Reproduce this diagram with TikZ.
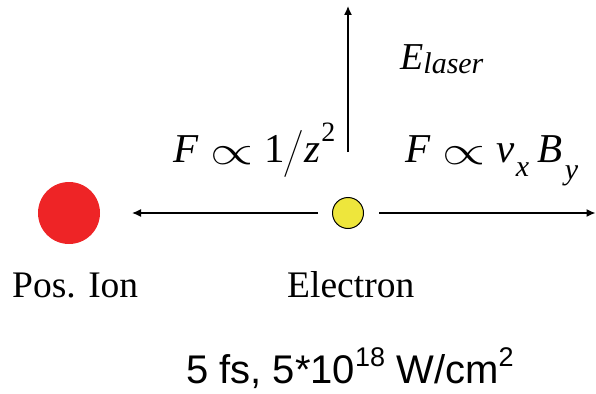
\RequirePackage{fix-cm}
\documentclass[tikz,border=0pt]{standalone}
\usepackage{exscale}
\usepackage{fontspec}
\setmainfont{Liberation Serif}
\newfontfamily\arialfont{Liberation Sans}
\usetikzlibrary{arrows.meta}
\definecolor{ionred}{HTML}{EE2426}
\definecolor{elyellow}{HTML}{EEE63C}
\newcommand\myprop{\raisebox{-2.5pt}{\scalebox{1.35}[1.0]{$\propto$}}}
\begin{document}
\begin{tikzpicture}[x=1pt,y=-1pt,
  arr/.style={-{Latex[length=9pt,width=8pt]}, line width=1.4pt},
  lbl/.style={anchor=base west, inner sep=0pt},
  big/.style={font=\fontsize{41}{45}\selectfont},
  mid/.style={font=\fontsize{37.5}{40}\selectfont}]
\useasboundingbox (0,0) rectangle (596,393);
\node[circle, fill=ionred, minimum size=62pt, inner sep=0pt] (ion) at (69,213) {};
\node[circle, fill=elyellow, draw=black, line width=1pt, minimum size=31pt, inner sep=0pt] (el) at (348,213) {};
\coordinate (lt) at (132,213);
\coordinate (rt) at (595.5,213);
\coordinate (up) at (348,6);
\draw[arr, shorten <=14pt] (el) -- (lt);
\draw[arr, shorten <=15pt] (el) -- (rt);
\draw[arr, shorten <=45pt] (el) -- (up);
\node[lbl, mid] (pos) at (12,297) {Pos. Ion};
\node[lbl, mid] (elec) at (287,297) {Electron};
\node[lbl, big] (fz) at (173,162) {\textit{F}\kern0.3em\myprop\kern0.25em1\kern-0.02em\raisebox{-3pt}{\scalebox{1}[1.05]{$\big/$}}\kern0em\textit{z}\raisebox{0.5em}{\fontsize{28}{28}\selectfont\kern0.05em 2}};
\node[lbl, big] (fv) at (405,162) {\textit{F}\kern0.3em\myprop\kern0.25em\textit{v}\raisebox{-0.36em}{\fontsize{30}{30}\selectfont\kern0.05em\textit{x}}\kern0.2em\textit{B}\raisebox{-0.42em}{\fontsize{30}{30}\selectfont\kern0.08em\textit{y}}};
\node[lbl, font=\fontsize{38}{40}\selectfont] (elaser) at (400,70) {\textit{E}\raisebox{-0.1em}{\fontsize{30}{30}\selectfont\textit{laser}}};
\node[lbl, font=\arialfont\fontsize{40}{44}\selectfont] (cap) at (186,383) {5 fs, 5*10\raisebox{0.42em}{\fontsize{27}{27}\selectfont 18} W/cm\raisebox{0.42em}{\fontsize{27}{27}\selectfont 2}};
\end{tikzpicture}
\end{document}
